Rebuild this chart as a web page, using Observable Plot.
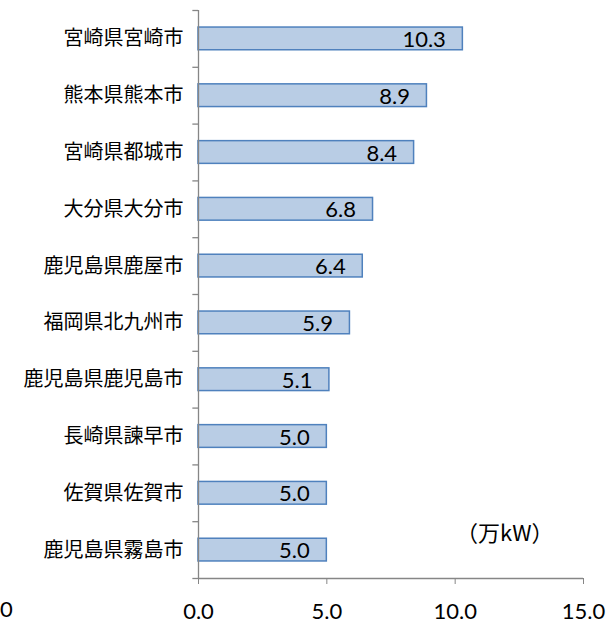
<!DOCTYPE html>
<html><head><meta charset="utf-8">
<script src="https://cdn.jsdelivr.net/npm/d3@7"></script>
<script src="https://cdn.jsdelivr.net/npm/@observablehq/plot@0.6"></script>
<style>
body{margin:0;background:#fff;}
#wrap{position:relative;width:606px;height:624px;}
#stray{position:absolute;left:0;top:598px;font:22px Lato,"Liberation Sans",sans-serif;color:#000;line-height:22px;}
</style>
</head><body>
<div id="wrap"><span id="stray">0</span></div>
<script>
const cities = ["宮崎県宮崎市","熊本県熊本市","宮崎県都城市","大分県大分市","鹿児島県鹿屋市","福岡県北九州市","鹿児島県鹿児島市","長崎県諫早市","佐賀県佐賀市","鹿児島県霧島市"];
const values = [10.3, 8.9, 8.4, 6.8, 6.4, 5.9, 5.1, 5.0, 5.0, 5.0];
const xTicks = [0, 5, 10, 15];
const unitLabel = "（万kW）";

const rows = cities.map((c, i) => ({city: c, value: values[i], i}));
const bounds = d3.range(cities.length + 1);

const chart = Plot.plot({
  width: 606, height: 624,
  marginLeft: 198, marginRight: 23, marginTop: 10, marginBottom: 46,
  x: {domain: [0, 15]},
  y: {domain: [0, cities.length], reverse: true, axis: null},
  style: {background: "#fff"},
  marks: [
    Plot.rectX(rows, {x1: 0, x2: "value", y1: d => d.i + 0.3, y2: d => d.i + 0.7,
      fill: "#b9cde5", stroke: "#4f81bd", strokeWidth: 1.5}),
    Plot.ruleX([0], {stroke: "#868686", strokeWidth: 1.3}),
    Plot.ruleY([cities.length], {stroke: "#868686", strokeWidth: 1.3}),
    Plot.ruleY(bounds, {y: d => d, x1: -0.22, x2: 0, stroke: "#868686", strokeWidth: 1.3}),
    Plot.axisX({ticks: xTicks, tickFormat: d => d.toFixed(1), tickSize: 6, tickPadding: 19,
      stroke: "#868686", fontSize: 22, fontFamily: "Lato, 'Liberation Sans', sans-serif",
      fill: "#000", label: null}),
    Plot.text(rows, {x: 0, y: d => d.i + 0.5, text: "city", textAnchor: "end", dx: -15,
      fontSize: 20, fontFamily: "'Noto Sans CJK JP', sans-serif", fill: "#000"}),
    Plot.text(rows, {x: "value", y: d => d.i + 0.5, text: d => d.value.toFixed(1),
      textAnchor: "end", dx: -17, dy: 1, fontSize: 22,
      fontFamily: "Lato, 'Liberation Sans', sans-serif", fill: "#000"}),
    Plot.text([unitLabel], {frameAnchor: "bottom-right", text: d => d, textAnchor: "end",
      dx: -30, dy: -38, fontSize: 22, fontFamily: "'Noto Sans CJK JP', sans-serif", fill: "#000"})
  ]
});
document.getElementById("wrap").prepend(chart);
</script>
</body></html>
